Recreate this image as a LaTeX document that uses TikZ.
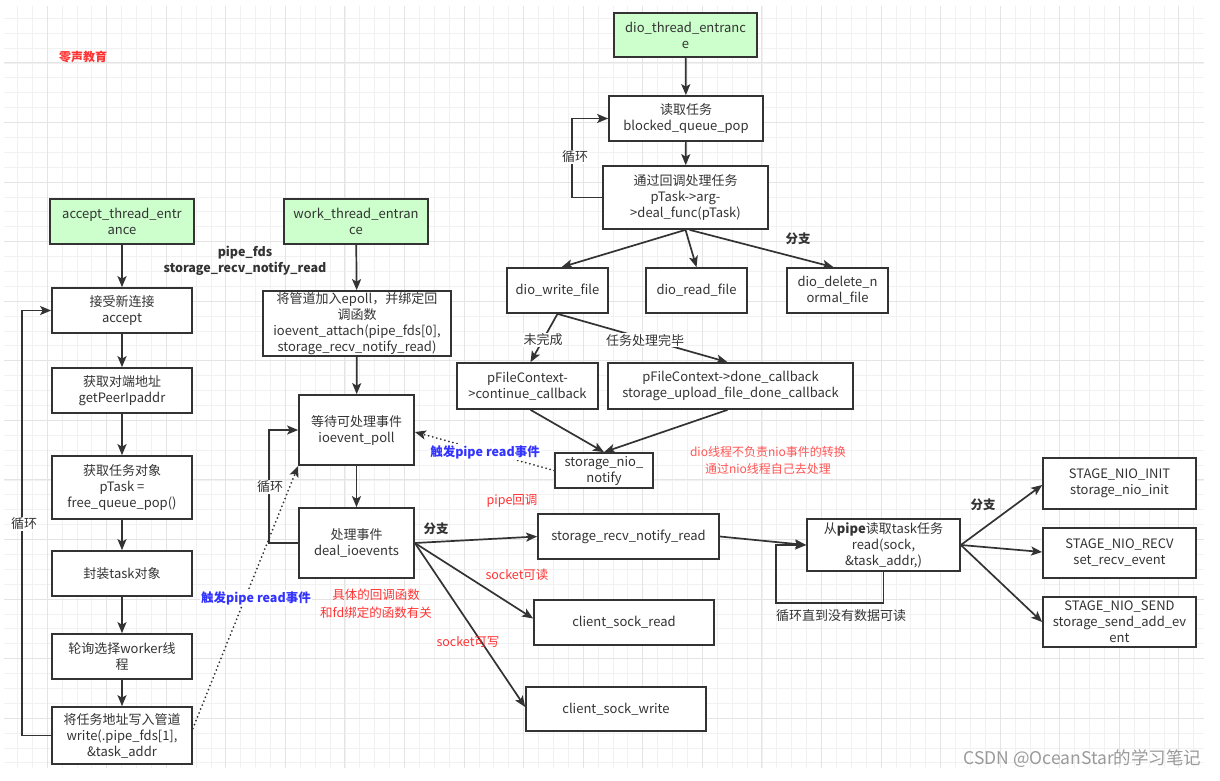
\documentclass[tikz,border=0pt]{standalone}
\usepackage{fontspec}
\setmainfont{Noto Sans CJK SC}
\usetikzlibrary{arrows.meta,calc}
\definecolor{linec}{HTML}{333333}
\definecolor{txt}{HTML}{333333}
\definecolor{greenf}{HTML}{CCFFCC}
\definecolor{redt}{HTML}{FF3333}
\definecolor{redl}{HTML}{FF5555}
\definecolor{bluet}{HTML}{3333FF}
\definecolor{gridmin}{HTML}{F1F1F1}
\definecolor{gridmaj}{HTML}{E4E4E4}
\definecolor{wmark}{HTML}{9A9A9A}
\tikzset{
  boxbase/.style={draw=linec, line width=1.7pt, fill=white, align=center, text=txt,
    font=\fontsize{13}{16}\selectfont, inner sep=0pt},
  bx/.style 2 args={boxbase, minimum width=#1, minimum height=#2},
  gbx/.style 2 args={boxbase, fill=greenf, minimum width=#1, minimum height=#2},
  arr/.style={draw=linec, line width=1.7pt, -{Stealth[length=11pt,width=9pt,inset=2.5pt]}},
  dotarr/.style={draw=linec, line width=2pt, line cap=round, dash pattern=on 0pt off 4.2pt,
    -{Stealth[length=11pt,width=9pt,inset=2.5pt]}},
  elab/.style={fill=white, text=txt, font=\fontsize{13}{16}\selectfont, inner sep=1pt},
  blab/.style={text=txt, font=\fontsize{12.5}{16}\selectfont\bfseries, inner sep=1pt, align=center},
  rlab/.style={text=redt, font=\fontsize{12.5}{16}\selectfont, inner sep=1pt, align=center},
  bluelab/.style={fill=white, text=bluet, font=\fontsize{12.5}{16}\selectfont\bfseries, inner sep=1pt},
}
\begin{document}
\begin{tikzpicture}[x=1pt,y=-1pt]
\useasboundingbox (0,0) rectangle (1220,780);
\fill[white] (0,0) rectangle (1220,780);
% grid
\foreach \i in {0,...,79} \draw[gridmin, line width=0.8pt] ({17.4+14.89*\i},6) -- ({17.4+14.89*\i},768);
\foreach \j in {0,...,50} \draw[gridmin, line width=0.8pt] (4,{18.3+14.89*\j}) -- (1204,{18.3+14.89*\j});
\foreach \i in {2,6,...,78} \draw[gridmaj, line width=1pt] ({17.4+14.89*\i},6) -- ({17.4+14.89*\i},768);
\foreach \j in {3,7,...,47} \draw[gridmaj, line width=1pt] (4,{18.3+14.89*\j}) -- (1204,{18.3+14.89*\j});

% title
\node[text=redt, font=\fontsize{12}{14}\selectfont\bfseries] (brand) at (83,57) {零声教育};

% accept column
\node[gbx={144}{45}] (accent) at (122,221.5) {accept\_thread\_entr\\ance};
\node[bx={140}{45}] (accept) at (122,310.5) {接受新连接\\accept};
\node[bx={140}{45}] (peer) at (122,390.5) {获取对端地址\\getPeerIpaddr};
\node[bx={140}{63}] (gettask) at (122,487.5) {获取任务对象\\pTask =\\free\_queue\_pop()};
\node[bx={140}{45}] (pack) at (122,573.5) {封装task对象};
\node[bx={140}{45}] (select) at (122,656.5) {轮询选择worker线\\程};
\node[bx={140}{57}] (writep) at (122,735.5) {将任务地址写入管道\\write(.pipe\_fds[1],\\\&task\_addr};

\draw[arr] (accent) -- (accept);
\draw[arr] (accept) -- (peer);
\draw[arr] (peer) -- (gettask);
\draw[arr] (gettask) -- (pack);
\draw[arr] (pack) -- (select);
\draw[arr] (select) -- (writep);
\draw[arr] (writep.west) -- ++(-29,0) |- (accept.west);
\node[elab] (loopa) at (24,524) {循环};

% work column
\node[gbx={144}{45}] (workent) at (356,221.5) {work\_thread\_entran\\ce};
\node[blab] (pipelab) at (245,261) {pipe\_fds\\storage\_recv\_notify\_read};
\node[bx={188}{65}] (attach) at (357,323.5) {将管道加入epoll，并绑定回\\调函数\\ioevent\_attach(pipe\_fds[0],\\storage\_recv\_notify\_read)};
\node[bx={115}{70}] (poll) at (356.5,430) {等待可处理事件\\ioevent\_poll};
\node[bx={115}{70}] (deal) at (356.5,543) {处理事件\\deal\_ioevents};
\draw[arr] (workent) -- (attach);
\draw[arr] (attach) -- (poll);
\draw[arr] (poll) -- (deal);
\draw[arr] (deal.west) -- ++(-29,0) |- (poll.west);
\node[elab] (loopw) at (270,487) {循环};

\draw[dotarr] ($(writep.east)+(0,-7)$) -- (poll.south west);
\node[bluelab] (trig1) at (256,598) {触发pipe read事件};

\node[rlab] (cbnote) at (376,603.5) {具体的回调函数\\[2pt]和fd绑定的函数有关};

% dio column
\node[gbx={143}{44}] (dioent) at (685.5,35) {dio\_thread\_entranc\\e};
\node[bx={154}{45}] (qpop) at (686,118.5) {读取任务\\blocked\_queue\_pop};
\node[bx={165}{63}] (cbtask) at (685.5,197.5) {通过回调处理任务\\pTask->arg-\\>deal\_func(pTask)};
\draw[arr] (dioent) -- (qpop);
\draw[arr] (qpop) -- (cbtask);
\draw[arr] (cbtask.west) -- ++(-30,0) |- (qpop.west);
\node[elab] (loopd) at (575,157) {循环};

\node[bx={101}{45}] (wfile) at (557.5,290.5) {dio\_write\_file};
\node[bx={101}{45}] (rfile) at (696.5,290.5) {dio\_read\_file};
\node[bx={101}{45}] (dfile) at (837.5,290.5) {dio\_delete\_n\\ormal\_file};
\draw[arr] (cbtask.south) -- ($(wfile.north)+(4,0)$);
\draw[arr] (cbtask.south) -- (rfile.north);
\draw[arr] ($(cbtask.south)+(4,0)$) -- ($(dfile.north)+(-4,0)$);
\node[blab] (br1) at (798,239) {分支};

\node[bx={141}{46}] (cont) at (527.5,386) {pFileContext-\\>continue\_callback};
\node[bx={245}{46}] (done) at (730.5,386) {pFileContext->done\_callback\\storage\_upload\_file\_done\_callback};
\node[bx={98}{35}] (notify) at (604,470.5) {storage\_nio\_\\notify};
\draw[arr] (wfile.south) -- ($(cont.north)+(3,0)$);
\draw[arr] (wfile.south) -- ($(done.north)+(-3,0)$);
\node[elab] (unf) at (543,340) {未完成};
\node[elab] (fin) at (645,340) {任务处理完毕};
\draw[arr] ($(cont.south)+(3,0)$) -- (notify.north);
\draw[arr] ($(done.south)+(-3,0)$) -- (notify.north);
\node[text=redl, font=\fontsize{12}{17}\selectfont, align=center] (dionote) at (768,460.5) {dio线程不负责nio事件的转换\\通过nio线程自己去处理};

\draw[dotarr] (notify.west) -- ($(poll.east)+(0,2)$);
\node[bluelab] (trig2) at (485,452) {触发pipe read事件};

% nio dispatch
\node[bx={181}{45}] (recv) at (628.5,536.5) {storage\_recv\_notify\_read};
\node[bx={180}{45}] (csr) at (624,622.5) {client\_sock\_read};
\node[bx={180}{44}] (csw) at (616,709) {client\_sock\_write};
\draw[arr] (deal.east) -- (recv.west);
\draw[arr] (deal.east) -- ($(csr.west)+(0,-4)$);
\draw[arr] (deal.east) -- ($(csw.west)+(0,-2)$);
\node[blab] (br2) at (436,529) {分支};
\node[rlab] (pipecb) at (512,501) {pipe回调};
\node[rlab] (sockr) at (517,575) {socket可读};
\node[rlab] (sockw) at (468,642) {socket可写};

\node[bx={153}{52}] (readtask) at (883.5,545) {从\textbf{pipe}读取task任务\\read(sock,\\\&task\_addr,)};
\draw[arr] (recv.east) -- (readtask.west);
\coordinate (lp) at (776,545);
\draw[arr] (readtask.south) -- ++(0,31) -| (lp) -- (readtask.west);
\node[text=txt, font=\fontsize{13}{16}\selectfont] (looplab) at (841,616) {循环直到没有数据可读};

\node[bx={153}{51}] (sinit) at (1119.5,483.5) {STAGE\_NIO\_INIT\\storage\_nio\_init};
\node[bx={153}{50}] (srecv) at (1119.5,553) {STAGE\_NIO\_RECV\\set\_recv\_event};
\node[bx={153}{50}] (ssend) at (1119.5,622) {STAGE\_NIO\_SEND\\storage\_send\_add\_ev\\ent};
\draw[arr] (readtask.east) -- ($(sinit.west)+(0,1.5)$);
\draw[arr] (readtask.east) -- ($(srecv.west)+(0,-1)$);
\draw[arr] (readtask.east) -- (ssend.west);
\node[blab] (br3) at (983,505) {分支};

% watermark
\node[text=wmark, font=\fontsize{17.5}{20}\selectfont, anchor=east] (wm) at (1205,759) {CSDN @OceanStar的学习笔记};
\end{tikzpicture}
\end{document}
